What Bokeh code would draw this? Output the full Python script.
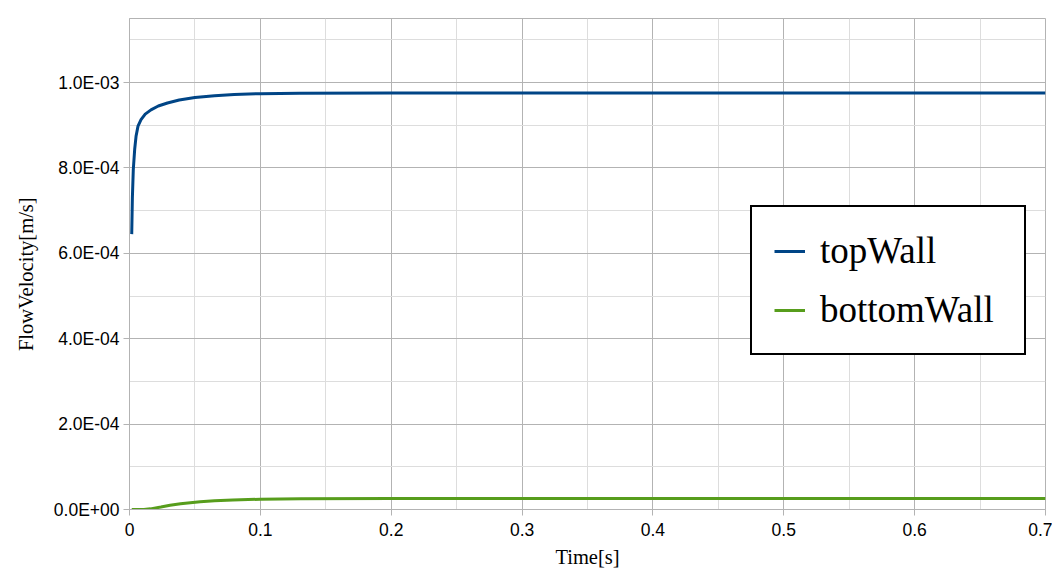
from bokeh.plotting import figure
from bokeh.models import (FixedTicker, CustomJSTickFormatter, Range1d, Legend, LegendItem)
from bokeh.embed import file_html
from bokeh.resources import INLINE

# Data
time_top = [0.0017, 0.0022, 0.0029, 0.004, 0.005, 0.0065, 0.0088, 0.012, 0.0164, 0.022,
            0.029, 0.038, 0.05, 0.065, 0.08, 0.1, 0.13, 0.2, 0.3, 0.4, 0.5, 0.6, 0.7]
top_wall = [6.45e-4, 7.3e-4, 7.96e-4, 8.45e-4, 8.74e-4, 8.98e-4, 9.13e-4, 9.26e-4, 9.36e-4, 9.45e-4,
            9.52e-4, 9.59e-4, 9.65e-4, 9.69e-4, 9.72e-4, 9.74e-4, 9.75e-4, 9.755e-4, 9.755e-4,
            9.755e-4, 9.755e-4, 9.755e-4, 9.755e-4]
time_bottom = [0.0017, 0.006, 0.011, 0.016, 0.024, 0.031, 0.039, 0.054, 0.065, 0.079,
               0.1, 0.131, 0.2, 0.3, 0.4, 0.5, 0.6, 0.7]
bottom_wall = [0.0, -0.1e-6, 0.0, 1.5e-6, 6e-6, 1.0e-5, 1.35e-5, 1.8e-5, 2.05e-5, 2.25e-5,
               2.4e-5, 2.5e-5, 2.55e-5, 2.55e-5, 2.55e-5, 2.55e-5, 2.55e-5, 2.55e-5]
x_ticks = [0, 0.1, 0.2, 0.3, 0.4, 0.5, 0.6, 0.7]
x_minor = [0.05, 0.15, 0.25, 0.35, 0.45, 0.55, 0.65]
y_ticks = [0, 2e-4, 4e-4, 6e-4, 8e-4, 1e-3]
y_minor = [1e-4, 3e-4, 5e-4, 7e-4, 9e-4, 1.1e-3]

p = figure(width=1052, height=571, output_backend="svg", toolbar_location=None,
           x_range=Range1d(0, 0.7), y_range=Range1d(0, 1.15e-3),
           min_border_left=129, min_border_right=7, min_border_top=18, min_border_bottom=62)
p.outline_line_color = "#b3b3b3"

r1 = p.line(time_top, top_wall, line_color="#004586", line_width=3)
r2 = p.line(time_bottom, bottom_wall, line_color="#579d1c", line_width=3)

p.xaxis.ticker = FixedTicker(ticks=x_ticks, minor_ticks=x_minor)
p.yaxis.ticker = FixedTicker(ticks=y_ticks, minor_ticks=y_minor)
p.xaxis.formatter = CustomJSTickFormatter(code="""
    if (Math.abs(tick) < 1e-12) return "0";
    return (Math.round(tick*10)/10).toString();
""")
p.yaxis.formatter = CustomJSTickFormatter(code="""
    let s = tick.toExponential(1).toUpperCase();
    let parts = s.split('E');
    let e = parts[1];
    let sign = e[0];
    let d = e.slice(1);
    if (d.length < 2) d = '0' + d;
    return parts[0] + 'E' + sign + d;
""")

for ax in (p.xaxis[0], p.yaxis[0]):
    ax.axis_line_color = "#b3b3b3"
    ax.major_tick_line_color = "#b3b3b3"
    ax.major_tick_in = 0
    ax.major_tick_out = 6
    ax.minor_tick_line_color = None
    ax.major_label_text_font = "Liberation Sans"
    ax.major_label_text_font_size = "17.5px"
    ax.major_label_text_color = "#000000"
    ax.axis_label_text_font = "Liberation Serif"
    ax.axis_label_text_font_size = "20.5px"
    ax.axis_label_text_font_style = "normal"
    ax.axis_label_text_color = "#000000"

p.xaxis.axis_label = "Time[s]"
p.yaxis.axis_label = "FlowVelocity[m/s]\u00a0\u00a0\u00a0\u00a0"
p.xaxis.major_label_standoff = 7
p.xaxis.axis_label_standoff = 7
p.yaxis.major_label_standoff = 4
p.yaxis.axis_label_standoff = 14

p.xgrid.grid_line_color = "#b3b3b3"
p.ygrid.grid_line_color = "#b3b3b3"
p.xgrid.minor_grid_line_color = "#dddddd"
p.ygrid.minor_grid_line_color = "#dddddd"

legend = Legend(items=[LegendItem(label="topWall", renderers=[r1]),
                       LegendItem(label="bottomWall", renderers=[r2])],
                location=(621, 154))
legend.label_text_font = "Liberation Serif"
legend.label_text_font_size = "37px"
legend.label_text_color = "#000000"
legend.glyph_width = 31
legend.label_standoff = 15
legend.label_width = 182
legend.padding = 22
legend.spacing = 16
legend.margin = 0
legend.border_line_color = "#000000"
legend.border_line_alpha = 1
legend.border_line_width = 2
legend.background_fill_color = "white"
legend.background_fill_alpha = 1
p.add_layout(legend)

open("out.html", "w").write(file_html(p, INLINE))
